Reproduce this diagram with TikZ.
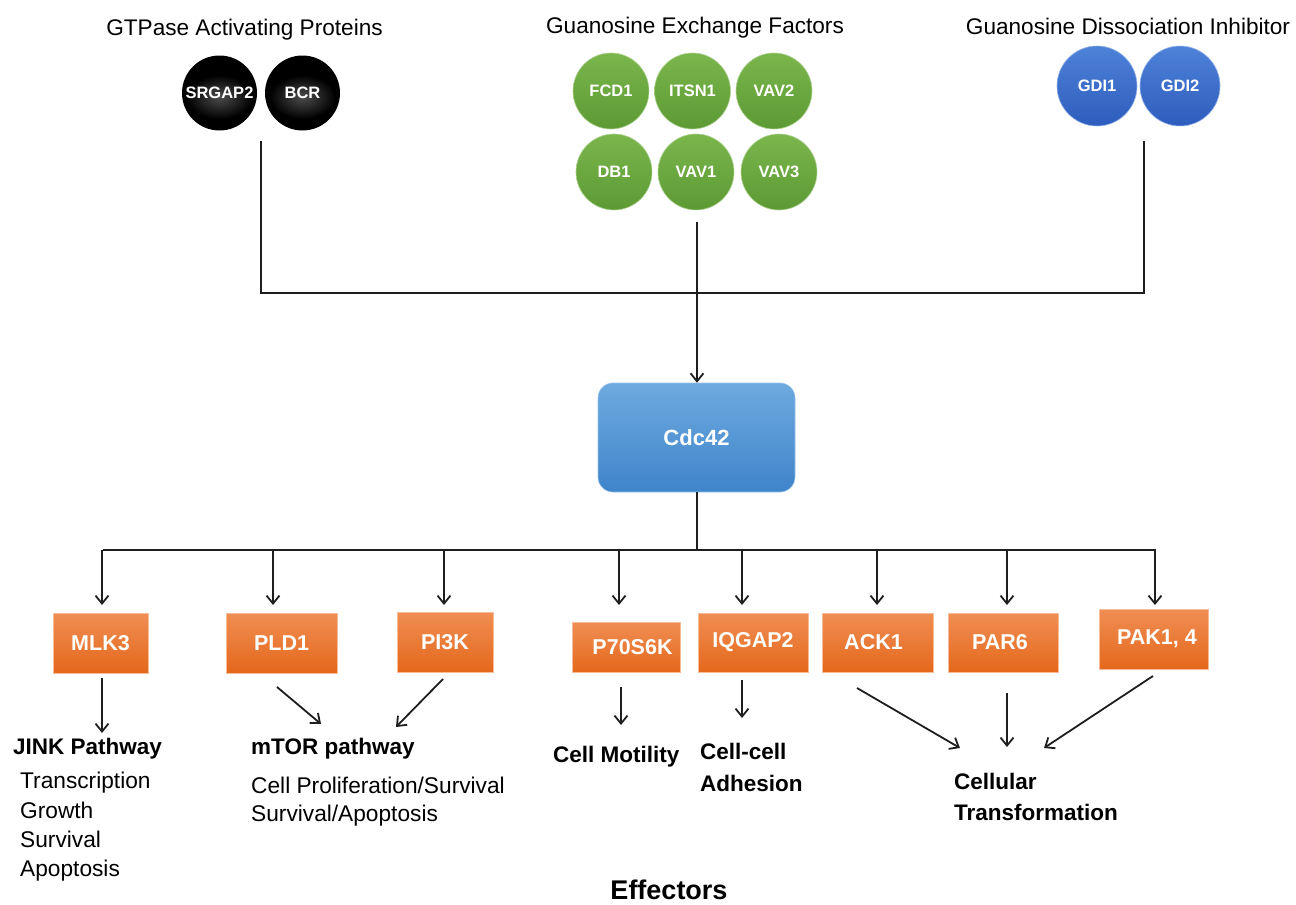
\documentclass[tikz,border=0pt]{standalone}
\usepackage{fontspec}
\setmainfont{Liberation Sans}
\usetikzlibrary{arrows.meta}
\definecolor{gtop}{HTML}{7AB64C}
\definecolor{gbot}{HTML}{5E9A34}
\definecolor{btop}{HTML}{4E82D8}
\definecolor{bbot}{HTML}{2D5DBD}
\definecolor{otop}{HTML}{F08E54}
\definecolor{obot}{HTML}{E4681B}
\definecolor{ctop}{HTML}{6EAADF}
\definecolor{cbot}{HTML}{3F84CA}
\definecolor{linec}{HTML}{1E1E1E}
\tikzset{
  ball/.style={circle, minimum size=76pt, inner sep=0pt, text=white,
    font=\bfseries\fontsize{16.5}{18}\selectfont},
  gball/.style={ball, top color=gtop, bottom color=gbot, draw=gtop!60!white, line width=0.6pt},
  bball/.style={ball, minimum size=80pt, top color=btop, bottom color=bbot, draw=btop!60!white, line width=0.6pt},
  obox/.style={rectangle, inner sep=0pt, minimum height=60pt, top color=otop, bottom color=obot,
    draw=otop!60!white, line width=0.6pt, text=white, font=\bfseries\fontsize{21.5}{24}\selectfont},
  ctitle/.style={anchor=base, inner sep=0pt, font=\fontsize{22.6}{26}\selectfont},
  btxt/.style={anchor=base west, inner sep=0pt, font=\bfseries\fontsize{22.5}{26}\selectfont},
  rtxt/.style={anchor=base west, inner sep=0pt, font=\fontsize{22.7}{26}\selectfont},
  conn/.style={draw=linec, line width=1.8pt},
  arr/.style={conn, -{Straight Barb[length=8pt,width=13pt]}},
}
\begin{document}
\begin{tikzpicture}[x=1pt,y=-1pt]
\useasboundingbox (0,0) rectangle (1296,905);

% titles
\node[ctitle] (tgap) at (244.5,35) {GTPase Activating Proteins};
\node[ctitle] (tgef) at (695,33) {Guanosine Exchange Factors};
\node[ctitle] (tgdi) at (1128,34) {Guanosine Dissociation Inhibitor};

% black GAP balls (glossy)
\foreach \x in {219.5,302.5}{
  \fill[black] (\x,93) circle (37.5);
  \shade[inner color=black!70!white, outer color=black] (\x,97) ellipse (33 and 22);
}
\node[ball, minimum size=75pt] (srgap2) at (219.5,93) {SRGAP2};
\node[ball, minimum size=75pt] (bcr) at (302.5,93) {BCR};

% green GEF balls
\node[gball] (fcd1) at (611,91) {FCD1};
\node[gball] (itsn1) at (692.5,91) {ITSN1};
\node[gball] (vav2) at (774,91) {VAV2};
\node[gball] (db1) at (614,172) {DB1};
\node[gball] (vav1) at (696,172) {VAV1};
\node[gball] (vav3) at (779,172) {VAV3};

% blue GDI balls
\node[bball] (gdi1) at (1097,86) {GDI1};
\node[bball] (gdi2) at (1180,86) {GDI2};

% Cdc42
\node[rectangle, rounded corners=15pt, minimum width=197pt, minimum height=109pt,
  top color=ctop, bottom color=cbot, draw=ctop!70!white, line width=0.6pt,
  text=white, font=\bfseries\fontsize{22}{24}\selectfont] (cdc42) at (696.5,437.5) {Cdc42};

% upper connectors
\coordinate (lt) at (261,141);
\coordinate (lb) at (261,293);
\coordinate (rt) at (1144,141);
\coordinate (rb) at (1144,293);
\coordinate (mt) at (697,222);
\draw[conn] (lt) -- (lb) -- (rb) -- (rt);
\draw[arr] (mt) -- (mt |- cdc42.north);

% bus
\coordinate (busl) at (103,550);
\coordinate (busr) at (1156,550);
\draw[conn] (cdc42.south -| mt) -- (mt |- busl);
\draw[conn] (busl) -- (busr);

% effector boxes
\node[obox, minimum width=95pt] (mlk3) at (100.5,643) {MLK3};
\node[obox, minimum width=111pt] (pld1) at (281.5,643) {PLD1};
\node[obox, minimum width=96pt] (pi3k) at (445,642) {PI3K};
\node[obox, minimum width=108pt, minimum height=50pt] (p70) at (626,647) {\hspace*{13pt}P70S6K};
\node[obox, minimum width=110pt, minimum height=59pt] (iqgap2) at (753,642.5) {IQGAP2};
\node[obox, minimum width=111pt, minimum height=59pt] (ack1) at (877.5,642.5) {\hspace*{-8pt}ACK1};
\node[obox, minimum width=110pt, minimum height=59pt] (par6) at (1003,642.5) {\hspace*{-6pt}PAR6};
\node[obox, minimum width=109pt] (pak) at (1153.5,639) {\hspace*{7pt}PAK1, 4};

% bus arrows
\foreach \n/\x in {1/102,2/273,3/444,4/619,5/742,6/877,7/1007,8/1155}{
  \coordinate (bt\n) at (\x,550);
  \coordinate (be\n) at (\x,605);
  \draw[arr] (bt\n) -- (be\n);
}

% outcome texts
\node[btxt] (jink) at (13,754) {JINK Pathway};
\node[rtxt] (tr) at (20,788) {Transcription};
\node[rtxt] (gr) at (20,818) {Growth};
\node[rtxt] (su) at (20,847) {Survival};
\node[rtxt] (ap) at (20,876) {Apoptosis};
\node[btxt] (mtor) at (251,754) {mTOR pathway};
\node[rtxt] (cps) at (251,793) {Cell Proliferation/Survival};
\node[rtxt] (sa) at (251,821) {Survival/Apoptosis};
\node[btxt] (mot) at (553,762) {Cell Motility};
\node[btxt] (cc) at (700,759) {Cell-cell};
\node[btxt] (adh) at (700,791) {Adhesion};
\node[btxt] (cel) at (954,789) {Cellular};
\node[btxt] (trf) at (954,820) {Transformation};
\node[anchor=base, inner sep=0pt, font=\bfseries\fontsize{27}{30}\selectfont] (eff) at (669,899) {Effectors};

% lower arrows
\coordinate (s1) at (102,678);  \coordinate (e1) at (102,733);
\coordinate (s2) at (277,687);  \coordinate (e2) at (321,724);
\coordinate (s3) at (443,679);  \coordinate (e3) at (396,727);
\coordinate (s4) at (621,687);  \coordinate (e4) at (621,725);
\coordinate (s5) at (742,680);  \coordinate (e5) at (742,718);
\coordinate (s6) at (857,688);  \coordinate (e6) at (960,748);
\coordinate (s7) at (1007,693); \coordinate (e7) at (1007,747);
\coordinate (s8) at (1153,676); \coordinate (e8) at (1044,748);
\foreach \i in {1,...,8}{ \draw[arr] (s\i) -- (e\i); }
\end{tikzpicture}
\end{document}
